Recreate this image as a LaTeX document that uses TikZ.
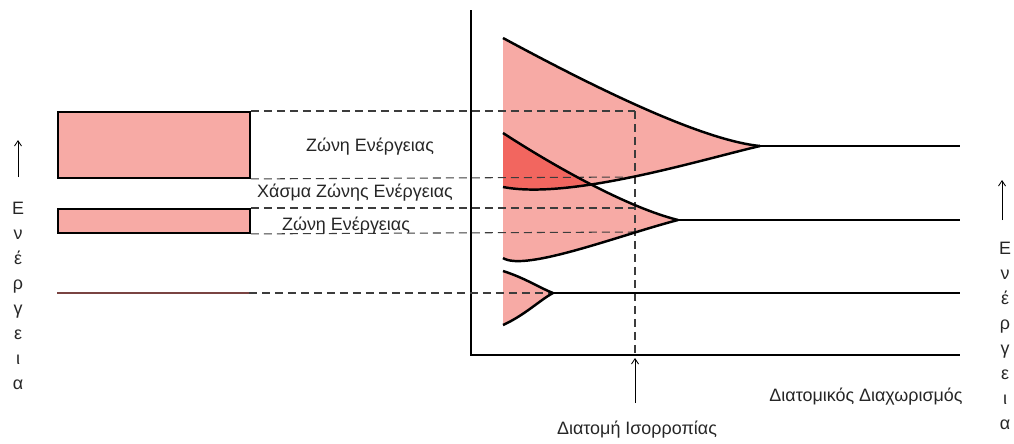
\documentclass[tikz,border=0pt]{standalone}
\usepackage{fontspec}
\setmainfont{Liberation Sans}
\usetikzlibrary{arrows.meta, positioning}
\definecolor{bandfill}{HTML}{F7AAA5}
\definecolor{overlap}{HTML}{F2665F}
\definecolor{guide}{HTML}{3C3C3C}
\definecolor{level}{HTML}{7A4442}

\begin{document}
\begin{tikzpicture}[x=0.02cm, y=-0.02cm, >={Straight Barb[length=3pt, width=4pt]}, font=\fontsize{10.2}{12}\selectfont]
    \tikzstyle{bandbox} = [rectangle, draw=black, fill=bandfill, line width=1.1pt, minimum width=3.84cm, inner sep=0pt]
    \tikzstyle{guideline} = [draw=guide, line width=0.6pt, dash pattern=on 0.16cm off 0.1cm]
    \tikzstyle{curve} = [draw=black, line width=1.4pt]
    \tikzstyle{lvl} = [draw=black, line width=1.1pt]
    \tikzstyle{lbl} = [inner sep=1pt, text=black!85]
    \tikzstyle{vlbl} = [align=center, font=\fontsize{10.2}{14.2}\selectfont, inner sep=0pt, text=black!85]

    \useasboundingbox (0,0) rectangle (1014,443);

    % energy levels of the free atom
    \node [bandbox, minimum height=1.32cm, anchor=north west] (wide) at (57,111) {};
    \node [bandbox, minimum height=0.48cm, anchor=north west] (narrow) at (57,208) {};
    \coordinate (atomL) at (57,293);
    \coordinate (atomR) at (249,293);
    \draw [draw=level, line width=0.8pt] (atomL) -- (atomR);

    % axes
    \coordinate (ytop) at (471,10);
    \coordinate (origin) at (471,355);
    \coordinate (xend) at (960,355);
    \draw [line width=1.1pt] (ytop) -- (origin) -- (xend);

    % tips of the bands
    \coordinate (tipA) at (760,146);
    \coordinate (tipB) at (678,220);
    \coordinate (tipC) at (553,293);
    \coordinate (endA) at (960,146);
    \coordinate (endB) at (960,220);
    \coordinate (endC) at (960,293);

    % fills
    \fill [bandfill] (503,38) .. controls (590,85) and (700,140) .. (tipA)
        .. controls (700,160) and (570,200) .. (503,187) -- cycle;
    \fill [bandfill] (503,133) .. controls (560,170) and (630,208) .. (tipB)
        .. controls (620,235) and (525,272) .. (503,258) -- cycle;
    \begin{scope}
        \clip (503,38) .. controls (590,85) and (700,140) .. (tipA)
            .. controls (700,160) and (570,200) .. (503,187) -- cycle;
        \fill [overlap] (503,133) .. controls (560,170) and (630,208) .. (tipB)
            .. controls (620,235) and (525,272) .. (503,258) -- cycle;
    \end{scope}
    \fill [bandfill] (503,271) .. controls (525,278) and (540,288) .. (tipC)
        .. controls (540,300) and (525,315) .. (503,325) -- cycle;

    % equilibrium guides
    \coordinate (eqTop) at (635,111);
    \coordinate (eqGapA) at (635,177);
    \coordinate (eqGapB) at (635,208);
    \coordinate (eqLow) at (635,232);
    \coordinate (eqBase) at (635,355);
    \path [guideline] (wide.north east) -- (eqTop);
    \path [guideline] (wide.south east) -- (eqGapA);
    \path [guideline] (narrow.north east) -- (eqGapB);
    \path [guideline] (narrow.south east) -- (eqLow);
    \path [guideline] (atomR) -- (tipC);
    \path [guideline] (eqTop) -- (eqBase);

    % band edges
    \draw [curve] (503,38) .. controls (590,85) and (700,140) .. (tipA);
    \draw [curve] (503,187) .. controls (570,200) and (700,160) .. (tipA);
    \draw [curve] (503,133) .. controls (560,170) and (630,208) .. (tipB);
    \draw [curve] (503,258) .. controls (525,272) and (620,235) .. (tipB);
    \draw [curve] (503,271) .. controls (525,278) and (540,288) .. (tipC);
    \draw [curve] (503,325) .. controls (525,315) and (540,300) .. (tipC);
    \draw [lvl] (tipA) -- (endA);
    \draw [lvl] (tipB) -- (endB);
    \draw [lvl] (tipC) -- (endC);

    % labels
    \node [lbl] (bandUpTxt) at (370,147) {Ζώνη Ενέργειας};
    \node [lbl] (gapTxt) at (355,193) {Χάσμα Ζώνης Ενέργειας};
    \node [lbl] (bandLowTxt) at (346,226) {Ζώνη Ενέργειας};
    \node [lbl] (sepTxt) at (866,397) {Διατομικός Διαχωρισμός};
    \node [lbl] (eqTxt) at (637,430) {Διατομή Ισορροπίας};
    \node [vlbl] (energyL) at (18,296) {Ε\\ν\\έ\\ρ\\γ\\ε\\ι\\α};
    \node [vlbl] (energyR) at (1005,336) {Ε\\ν\\έ\\ρ\\γ\\ε\\ι\\α};

    % arrows
    \coordinate (arrLtail) at (18,177);
    \coordinate (arrLhead) at (18,140);
    \coordinate (arrRtail) at (1002,220);
    \coordinate (arrRhead) at (1002,180);
    \coordinate (eqFoot) at (635,403);
    \coordinate (eqHead) at (635,358);
    \draw [->, line width=0.5pt] (arrLtail) -- (arrLhead);
    \draw [->, line width=0.5pt] (arrRtail) -- (arrRhead);
    \draw [->, line width=0.5pt] (eqFoot) -- (eqHead);
\end{tikzpicture}
\end{document}
